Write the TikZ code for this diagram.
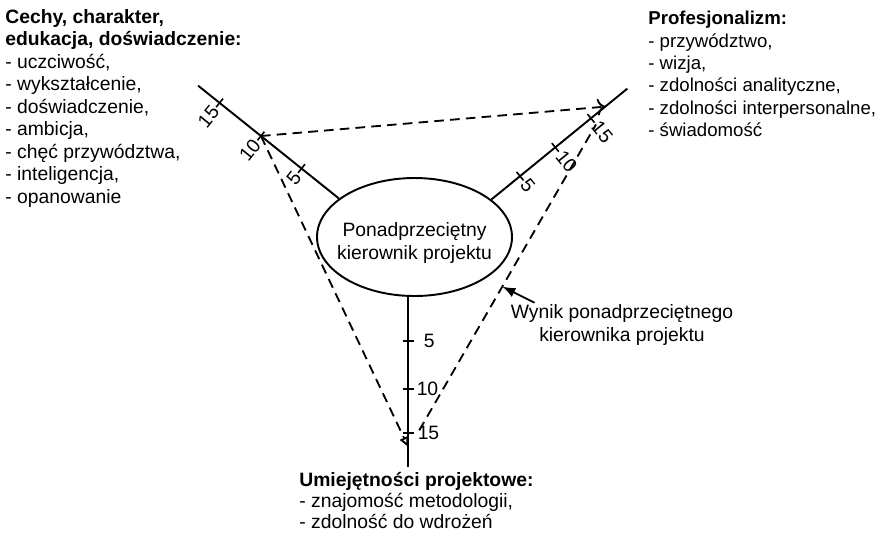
\documentclass[tikz,border=0pt]{standalone}
\usepackage{fontspec}
\setmainfont{Liberation Sans}
\usepackage{tikz}
\usetikzlibrary{shapes,arrows.meta,calc}

\begin{document}
\begin{tikzpicture}[
        axisline/.style={line width=1.1pt},
        tickmark/.style={line width=0.9pt},
        scoreline/.style={line width=1.05pt,dash pattern=on 5.5pt off 3.5pt},
        listtext/.style={align=left,inner sep=0pt,font=\fontsize{11}{12.8}\selectfont},
        ticklabel/.style={inner sep=3.8pt,font=\fontsize{11}{13}\selectfont}
    ]
        \useasboundingbox (0,0) rectangle (17.62,-10.70);

        % Centre
        \node[draw,ellipse,line width=1.1pt,minimum width=3.9cm,minimum height=2.36cm] (kp) at (8.29,-4.74) {};
        \node[align=center,inner sep=0pt,font=\fontsize{11}{13}\selectfont] (kpt) at ($(kp.center)+(0,-0.12)$) {Ponadprzeciętny\\kierownik projektu};

        % Axes
        \coordinate (l0) at (kp.153);
        \coordinate (l1) at ($(l0)+(141.3:3.61)$);
        \coordinate (r0) at (kp.26);
        \coordinate (r1) at ($(r0)+(39.2:3.51)$);
        \coordinate (v0) at (kp.264);
        \coordinate (v1) at ($(v0)+(0,-3.4)$);
        \draw[axisline] (l0) -- (l1);
        \draw[axisline] (r0) -- (r1);
        \draw[axisline] (v0) -- (v1);

        \foreach \d/\t in {0.96/5,2.0/10,3.06/15}{
            \coordinate (lt\t) at ($(l0)!\d cm!(l1)$);
            \draw[tickmark] ($(lt\t)!0.11cm!90:(l1)$) -- ($(lt\t)!0.11cm!-90:(l1)$);
            \node[ticklabel,anchor=east,rotate=51.3] at (lt\t) {\t};
        }
        \foreach \d/\t in {0.74/5,1.65/10,2.57/15}{
            \coordinate (rt\t) at ($(r0)!\d cm!(r1)$);
            \draw[tickmark] ($(rt\t)!0.11cm!90:(r1)$) -- ($(rt\t)!0.11cm!-90:(r1)$);
            \node[ticklabel,anchor=west,rotate=-50.8] at (rt\t) {\t};
        }
        \foreach \d/\t/\s in {0.88/5/0.17,1.84/10/0.03,2.72/15/0.05}{
            \coordinate (vt\t) at ($(v0)!\d cm!(v1)$);
            \draw[tickmark] ($(vt\t)+(-0.11,0)$) -- ($(vt\t)+(0.11,0)$);
            \node[ticklabel,anchor=west,xshift=\s cm] at (vt\t) {\t};
        }

        % Score triangle
        \coordinate (rw) at ($(r0)!2.94cm!(r1)$);
        \coordinate (vw) at ($(v0)!3.0cm!(v1)$);
        \coordinate (vs) at ($(vt15)+(0.22,0.05)$);
        \coordinate (rs) at ($(rt15)+(-50.8:0.16)$);
        \draw[scoreline,-{To[length=1.6mm]}] (lt10) -- (rw);
        \draw[scoreline,-{Triangle[open,length=2mm,width=1.8mm]}] (lt10) -- (vw);
        \draw[scoreline] (vs) -- (rs);

        \coordinate (w) at ($(vs)!0.47!(rs)$);
        \node[align=center,inner sep=0pt,font=\fontsize{11}{13.6}\selectfont] (wynik) at (12.44,-6.5) {Wynik ponadprzeciętnego\\kierownika projektu};
        \draw[line width=1pt,-{Latex[length=2.6mm,width=2mm]}] ($(wynik.north west)+(0.48,0.02)$) -- (w);

        % Lists
        \node[listtext,anchor=north west] (cechy) at (0.1,-0.18) {\textbf{Cechy, charakter,}\\\textbf{edukacja, doświadczenie:}\\- uczciwość,\\- wykształcenie,\\- doświadczenie,\\- ambicja,\\- chęć przywództwa,\\- inteligencja,\\- opanowanie};
        \node[listtext,anchor=north west,font=\fontsize{10.6}{12.7}\selectfont] (prof) at (12.96,-0.22) {\textbf{Profesjonalizm:}\\- przywództwo,\\- wizja,\\- zdolności analityczne,\\- zdolności interpersonalne,\\- świadomość};
        \node[listtext,anchor=north west,font=\fontsize{11}{12}\selectfont] (umiej) at (5.98,-9.44) {\textbf{Umiejętności projektowe:}\\- znajomość metodologii,\\- zdolność do wdrożeń};
    \end{tikzpicture}
\end{document}
